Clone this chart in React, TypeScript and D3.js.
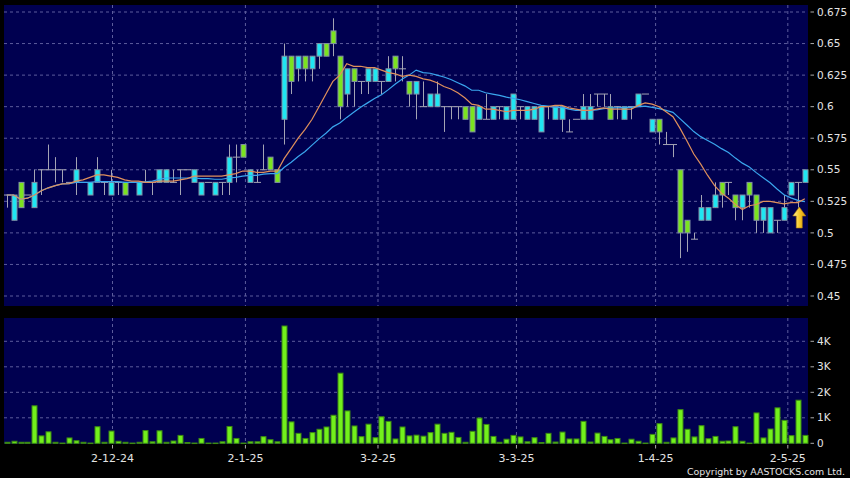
import React from "react";
import * as d3 from "d3";

// ---- Data ----
const opens = [
  0.53, 0.51, 0.54, 0.53, 0.52, 0.55, 0.55, 0.55, 0.55, 0.54,
  0.54, 0.54, 0.53, 0.54, 0.54, 0.53, 0.54, 0.54, 0.54, 0.53,
  0.54, 0.54, 0.54, 0.54, 0.54, 0.55, 0.55, 0.54, 0.53, 0.54,
  0.53, 0.54, 0.54, 0.56, 0.57, 0.54, 0.54, 0.55, 0.56, 0.55,
  0.59, 0.64, 0.63, 0.64, 0.63, 0.64, 0.65, 0.66, 0.64, 0.61,
  0.63, 0.62, 0.62, 0.62, 0.62, 0.62, 0.64, 0.63, 0.62, 0.61,
  0.60, 0.60, 0.60, 0.60, 0.60, 0.60, 0.60, 0.60, 0.59, 0.59,
  0.59, 0.60, 0.59, 0.59, 0.60, 0.59, 0.59, 0.58, 0.60, 0.59,
  0.59, 0.58, 0.59, 0.59, 0.59, 0.61, 0.61, 0.60, 0.60, 0.59,
  0.60, 0.60, 0.61, 0.58, 0.59, 0.57, 0.57, 0.55, 0.51, 0.495,
  0.51, 0.51, 0.52, 0.54, 0.54, 0.53, 0.52, 0.54, 0.53, 0.51,
  0.50, 0.51, 0.51, 0.53, 0.54, 0.54,
];
const highs = [
  0.53, 0.53, 0.54, 0.53, 0.55, 0.55, 0.57, 0.56, 0.55, 0.54,
  0.56, 0.54, 0.54, 0.56, 0.54, 0.55, 0.54, 0.54, 0.54, 0.54,
  0.55, 0.54, 0.55, 0.55, 0.55, 0.55, 0.55, 0.55, 0.54, 0.54,
  0.54, 0.54, 0.57, 0.57, 0.57, 0.55, 0.55, 0.57, 0.56, 0.55,
  0.65, 0.64, 0.64, 0.64, 0.64, 0.65, 0.65, 0.67, 0.64, 0.63,
  0.63, 0.62, 0.63, 0.63, 0.62, 0.64, 0.64, 0.64, 0.62, 0.62,
  0.62, 0.61, 0.62, 0.60, 0.60, 0.60, 0.60, 0.60, 0.60, 0.61,
  0.60, 0.60, 0.60, 0.61, 0.60, 0.60, 0.60, 0.60, 0.60, 0.60,
  0.60, 0.59, 0.59, 0.61, 0.61, 0.61, 0.61, 0.61, 0.60, 0.60,
  0.60, 0.61, 0.61, 0.59, 0.59, 0.58, 0.57, 0.55, 0.51, 0.50,
  0.53, 0.52, 0.54, 0.54, 0.54, 0.53, 0.53, 0.54, 0.53, 0.52,
  0.52, 0.51, 0.53, 0.54, 0.54, 0.55,
];
const lows = [
  0.52, 0.51, 0.52, 0.53, 0.52, 0.53, 0.55, 0.54, 0.54, 0.54,
  0.53, 0.54, 0.53, 0.54, 0.53, 0.53, 0.53, 0.53, 0.54, 0.53,
  0.54, 0.53, 0.54, 0.54, 0.54, 0.53, 0.55, 0.54, 0.53, 0.54,
  0.53, 0.53, 0.53, 0.54, 0.56, 0.54, 0.54, 0.55, 0.55, 0.54,
  0.57, 0.61, 0.62, 0.62, 0.62, 0.63, 0.64, 0.64, 0.59, 0.60,
  0.60, 0.61, 0.61, 0.62, 0.61, 0.62, 0.62, 0.62, 0.60, 0.59,
  0.60, 0.60, 0.60, 0.58, 0.59, 0.59, 0.59, 0.58, 0.59, 0.59,
  0.59, 0.59, 0.59, 0.59, 0.59, 0.59, 0.59, 0.58, 0.59, 0.59,
  0.58, 0.58, 0.59, 0.59, 0.59, 0.60, 0.60, 0.59, 0.59, 0.59,
  0.59, 0.60, 0.61, 0.58, 0.57, 0.57, 0.56, 0.48, 0.485, 0.495,
  0.51, 0.51, 0.52, 0.52, 0.53, 0.51, 0.51, 0.52, 0.50, 0.50,
  0.50, 0.50, 0.51, 0.53, 0.52, 0.54,
];
const closes = [
  0.53, 0.53, 0.52, 0.53, 0.54, 0.55, 0.55, 0.55, 0.55, 0.54,
  0.55, 0.54, 0.54, 0.55, 0.54, 0.54, 0.54, 0.53, 0.54, 0.54,
  0.54, 0.54, 0.55, 0.55, 0.54, 0.55, 0.55, 0.55, 0.54, 0.54,
  0.54, 0.54, 0.56, 0.56, 0.56, 0.55, 0.54, 0.55, 0.55, 0.54,
  0.64, 0.62, 0.64, 0.63, 0.64, 0.65, 0.64, 0.65, 0.60, 0.63,
  0.62, 0.62, 0.63, 0.63, 0.62, 0.63, 0.63, 0.63, 0.61, 0.62,
  0.60, 0.61, 0.61, 0.60, 0.60, 0.60, 0.59, 0.58, 0.60, 0.59,
  0.60, 0.60, 0.60, 0.61, 0.60, 0.60, 0.60, 0.60, 0.60, 0.60,
  0.60, 0.58, 0.59, 0.60, 0.60, 0.61, 0.61, 0.59, 0.60, 0.60,
  0.60, 0.61, 0.61, 0.59, 0.58, 0.57, 0.57, 0.50, 0.50, 0.495,
  0.52, 0.52, 0.53, 0.53, 0.54, 0.52, 0.53, 0.53, 0.51, 0.52,
  0.52, 0.51, 0.52, 0.54, 0.54, 0.55,
];
const volumesK = [
  0.04, 0.08, 0.04, 0.04, 1.47, 0.29, 0.45, 0.04, 0.01, 0.21,
  0.10, 0.04, 0.01, 0.65, 0.04, 0.48, 0.08, 0.04, 0.01, 0.04,
  0.50, 0.06, 0.49, 0.04, 0.09, 0.31, 0.03, 0.01, 0.19, 0.01,
  0.01, 0.06, 0.66, 0.19, 0.01, 0.06, 0.06, 0.26, 0.14, 0.06,
  4.60, 0.84, 0.39, 0.19, 0.42, 0.55, 0.64, 1.10, 2.75, 1.27,
  0.68, 0.26, 0.75, 0.22, 1.04, 0.86, 0.17, 0.64, 0.29, 0.32,
  0.28, 0.42, 0.75, 0.39, 0.43, 0.23, 0.04, 0.47, 0.99, 0.74,
  0.27, 0.04, 0.16, 0.31, 0.25, 0.06, 0.22, 0.03, 0.39, 0.05,
  0.44, 0.17, 0.17, 0.86, 0.05, 0.40, 0.27, 0.14, 0.19, 0.01,
  0.16, 0.08, 0.01, 0.35, 0.77, 0.04, 0.21, 1.32, 0.55, 0.25,
  0.69, 0.18, 0.27, 0.08, 0.09, 0.65, 0.08, 0.01, 1.19, 0.21,
  0.56, 1.39, 0.90, 0.30, 1.69, 0.31,
];
const priceTicks = [0.45, 0.475, 0.5, 0.525, 0.55, 0.575, 0.6, 0.625, 0.65, 0.675];
const volumeTicks = [0, 1000, 2000, 3000, 4000];
const volumeTickLabels = ["0", "1K", "2K", "3K", "4K"];
const monthTickPos = [15.25, 34.4, 53.5, 73.45, 93.5, 112.55];
const monthTickLabels = ["2-12-24", "2-1-25", "3-2-25", "3-3-25", "1-4-25", "2-5-25"];
const signalIndex = 114.2;
const signalPrice = 0.5205;
const maShortPeriod = 10;
const maLongPeriod = 20;

// ---- Styles ----
const W = 850;
const H = 478;
const panelLeft = 4;
const panelRight = 808;
const priceTop = 5;
const priceBottom = 306;
const volTop = 318;
const volBottom = 444;
const navy = "#000050";
const gridColor = "#5c5c9c";
const upFill = "#1fe6f2";
const downFill = "#7be31f";
const bodyStroke = "#8090a4";
const wickColor = "#a4a4b4";
const textColor = "#e4e4e4";
const font = "DejaVu Sans, Verdana, sans-serif";

function sma(values: number[], n: number): number[] {
  return values.map((_, i) => {
    const s = Math.max(0, i - n + 1);
    return d3.mean(values.slice(s, i + 1)) as number;
  });
}

export default function App() {
  const N = closes.length;
  const x = d3.scaleLinear().domain([-0.5, N - 0.5]).range([3.2, 808.3]);
  const y = d3.scaleLinear().domain([0.45, 0.675]).range([296, 12]);
  const yv = d3.scaleLinear().domain([0, 4000]).range([443.3, 341.3]);

  const maShort = sma(closes, maShortPeriod);
  const maLong = sma(closes, maLongPeriod);
  const line = d3
    .line<number>()
    .x((_, i) => x(i))
    .y((d) => y(d));

  const bodyW = 5;
  const ax = x(signalIndex);
  const ay = y(signalPrice);

  return (
    <svg
      width={W}
      height={H}
      style={{ position: "absolute", left: 0, top: 0, display: "block" }}
    >
      <defs>
        <linearGradient id="arrowGrad" x1="0" y1="0" x2="1" y2="0">
          <stop offset="0" stopColor="#fff1a0" />
          <stop offset="0.5" stopColor="#f7c928" />
          <stop offset="1" stopColor="#d99a10" />
        </linearGradient>
      </defs>
      <rect x={0} y={0} width={W} height={H} fill="#000" />
      <rect x={panelLeft} y={priceTop} width={panelRight - panelLeft} height={priceBottom - priceTop} fill={navy} />
      <rect x={panelLeft} y={volTop} width={panelRight - panelLeft} height={volBottom - volTop} fill={navy} />

      {/* price grid */}
      {priceTicks.map((t) => (
        <line key={"pg" + t} x1={panelLeft} x2={panelRight} y1={y(t)} y2={y(t)} stroke={gridColor} strokeDasharray="3,3" />
      ))}
      {volumeTicks.filter((t) => t > 0).map((t) => (
        <line key={"vg" + t} x1={panelLeft} x2={panelRight} y1={yv(t)} y2={yv(t)} stroke={gridColor} strokeDasharray="3,3" />
      ))}
      {monthTickPos.map((p) => (
        <g key={"mg" + p}>
          <line x1={x(p)} x2={x(p)} y1={priceTop} y2={priceBottom} stroke={gridColor} strokeDasharray="3,3" />
          <line x1={x(p)} x2={x(p)} y1={volTop} y2={volBottom} stroke={gridColor} strokeDasharray="3,3" />
        </g>
      ))}

      {/* candles */}
      {closes.map((c, i) => {
        const o = opens[i];
        const cx = Math.round(x(i)) + 0.5;
        const wick = (
          <line x1={cx} x2={cx} y1={y(highs[i])} y2={y(lows[i])} stroke={wickColor} strokeWidth={1} />
        );
        if (o === c) {
          return (
            <g key={"c" + i}>
              {wick}
              <line x1={cx - 3.5} x2={cx + 3.5} y1={y(c)} y2={y(c)} stroke={wickColor} strokeWidth={1} />
            </g>
          );
        }
        const top = y(Math.max(o, c));
        const bot = y(Math.min(o, c));
        return (
          <g key={"c" + i}>
            {wick}
            <rect
              x={cx - bodyW / 2}
              y={top}
              width={bodyW}
              height={bot - top}
              fill={c > o ? upFill : downFill}
              stroke={bodyStroke}
              strokeWidth={1}
            />
          </g>
        );
      })}

      {/* moving averages */}
      <path d={line(maLong) || ""} fill="none" stroke="#3aa6ee" strokeWidth={1.2} />
      <path d={line(maShort) || ""} fill="none" stroke="#e0905c" strokeWidth={1.2} />

      {/* signal arrow */}
      <path
        d={`M${ax},${ay} L${ax + 6.5},${ay + 9} L${ax + 3},${ay + 9} L${ax + 3},${ay + 21} L${ax - 3},${ay + 21} L${ax - 3},${ay + 9} L${ax - 6.5},${ay + 9} Z`}
        fill="url(#arrowGrad)"
        stroke="#b07a08"
        strokeWidth={0.6}
      />

      {/* volume bars */}
      {volumesK.map((v, i) => {
        const cx = Math.round(x(i)) + 0.5;
        const top = yv(v * 1000);
        return (
          <rect
            key={"v" + i}
            x={cx - 2.5}
            y={top}
            width={5}
            height={Math.max(0.5, yv(0) - top)}
            fill="#72f01c"
            stroke="#3c8a12"
            strokeWidth={1}
          />
        );
      })}

      {/* price axis */}
      {priceTicks.map((t) => (
        <g key={"pa" + t}>
          <line x1={810.5} x2={814} y1={y(t)} y2={y(t)} stroke="#aaa" />
          <text x={817} y={y(t)} dy="0.35em" fill={textColor} fontSize={10.5} fontFamily={font}>
            {String(t)}
          </text>
        </g>
      ))}
      {/* volume axis */}
      {volumeTicks.map((t, k) => (
        <g key={"va" + t}>
          <line x1={810.5} x2={814} y1={yv(t)} y2={yv(t)} stroke="#aaa" />
          <text x={817} y={yv(t)} dy="0.35em" fill={textColor} fontSize={10.5} fontFamily={font}>
            {volumeTickLabels[k]}
          </text>
        </g>
      ))}
      {/* date axis */}
      {monthTickPos.map((p, k) => (
        <g key={"da" + p}>
          <line x1={x(p)} x2={x(p)} y1={445} y2={448.5} stroke="#aaa" />
          <text x={x(p)} y={462} textAnchor="middle" fill={textColor} fontSize={11} fontFamily={font}>
            {monthTickLabels[k]}
          </text>
        </g>
      ))}
      <text x={845} y={475} textAnchor="end" fill={textColor} fontSize={9.5} fontFamily={font} textLength={158} lengthAdjust="spacingAndGlyphs">
        Copyright by AASTOCKS.com Ltd.
      </text>
    </svg>
  );
}
